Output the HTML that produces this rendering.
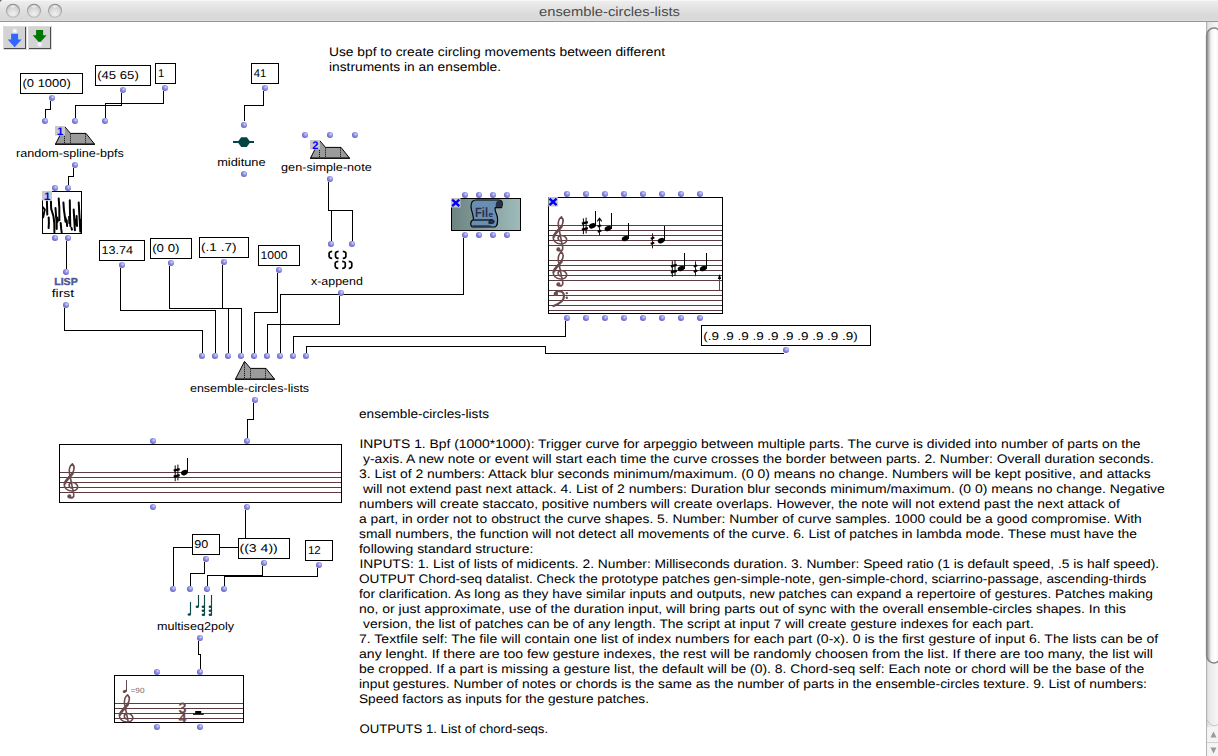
<!DOCTYPE html>
<html><head><meta charset="utf-8"><title>ensemble-circles-lists</title>
<style>
html,body{margin:0;padding:0;background:#fff;}
body{width:1218px;height:756px;overflow:hidden;position:relative;font-family:"Liberation Sans",sans-serif;}
svg{position:absolute;left:0;top:0;}
text{font-family:"Liberation Sans",sans-serif;white-space:pre;text-rendering:geometricPrecision;}
</style></head><body>
<svg width="1218" height="756" viewBox="0 0 1218 756">
<defs>
<radialGradient id="dg" cx="0.62" cy="0.36" r="0.62">
<stop offset="0" stop-color="#e6e6ff"/><stop offset="0.3" stop-color="#a4a4f2"/><stop offset="1" stop-color="#6666c2"/>
</radialGradient>
<g id="d"><circle cx="0" cy="0" r="3.05" fill="url(#dg)"/></g>
<linearGradient id="tb" x1="0" y1="0" x2="0" y2="1">
<stop offset="0" stop-color="#efefef"/><stop offset="0.6" stop-color="#dcdcdc"/><stop offset="0.78" stop-color="#d9d9d9"/><stop offset="1" stop-color="#d9d9d9"/>
</linearGradient>
<radialGradient id="tl" cx="0.5" cy="0.75" r="0.7">
<stop offset="0" stop-color="#f0f0f0"/><stop offset="0.6" stop-color="#dadada"/><stop offset="1" stop-color="#c4c4c4"/>
</radialGradient>
<linearGradient id="tls" x1="0" y1="0" x2="0" y2="1"><stop offset="0" stop-color="#8c8c8c"/><stop offset="1" stop-color="#bcbcbc"/></linearGradient>
<linearGradient id="fg" x1="0" y1="0" x2="1" y2="0">
<stop offset="0" stop-color="#6c8482"/><stop offset="1" stop-color="#9ebbbb"/>
</linearGradient>
<linearGradient id="sbt" x1="0" y1="0" x2="1" y2="0">
<stop offset="0" stop-color="#c8c8c8"/><stop offset="0.25" stop-color="#e8e8e8"/><stop offset="1" stop-color="#f6f6f6"/>
</linearGradient>
<linearGradient id="sbth" x1="0" y1="0" x2="1" y2="0">
<stop offset="0" stop-color="#8a8a8a"/><stop offset="0.14" stop-color="#b8b8b8"/><stop offset="0.3" stop-color="#f2f2f2"/><stop offset="0.55" stop-color="#ffffff"/><stop offset="1" stop-color="#f4f4f4"/>
</linearGradient>
<!-- patch icon -->
<g id="pi">
<path d="M0.5,18.5 L9.5,0.8 L15.5,7.8 L31,7.8 L39.5,18.5 Z" fill="#9b9b9b" stroke="#000" stroke-width="1" stroke-linejoin="miter"/>
<rect x="0" y="18.2" width="40" height="1" fill="#000"/>
<path d="M9.5,2 V18 M15.5,8 V18 M30.5,8 V18" stroke="#000" stroke-width="1" stroke-dasharray="1,1.05" fill="none"/>
</g>
<!-- treble clef: px units for staff space 4.8, origin at spiral centre (just above G line) -->
<g id="tc" fill="none" stroke-linecap="round" stroke-linejoin="round">
<path d="M0.6,2.6 C-3.2,2.2 -3.4,-2.2 0,-2.9 C4,-3.4 6.3,-0.5 6.2,1.6 C6.1,4.2 3,5.7 0,5.5 C-4.6,5.2 -7.6,2 -7.3,-1.5 C-7,-5 -2.2,-8.6 0.4,-11.8 C2.8,-15 3.3,-19 0.9,-21.6 C-1.3,-20 -2.6,-16 -2.1,-12.5 L2.2,8.6 C2.9,12 0.2,13.2 -1.8,11.8" stroke-width="1.6"/>
<path d="M-6.4,-2 C-5.5,-5.5 -1.5,-8.5 1.2,-12" stroke-width="2.3"/>
<circle cx="-2.1" cy="10.9" r="1.5" stroke-width="1.2" fill="currentColor"/>
</g>
<g id="bc" fill="none" stroke-linecap="round">
<path d="M-5,-1 C-5.6,-5 4,-6.2 4,0.8 C4,5 -1,8.5 -6.5,10.5" stroke-width="2.2"/>
<circle cx="-4.2" cy="-1.6" r="1.6" stroke-width="1.2" fill="currentColor"/>
<circle cx="6.8" cy="-2.4" r="0.6" stroke-width="1.2"/><circle cx="6.8" cy="2.2" r="0.6" stroke-width="1.2"/>
</g>
<g id="nh"><ellipse cx="0" cy="0" rx="3.5" ry="2.5" transform="rotate(-24)" fill="#000"/></g>
<g id="sh" stroke="#000" fill="none"><path d="M-1.4,-7.4 V8.4 M1.3,-8.2 V7.6" stroke-width="1"/><path d="M-2.9,-2.2 L3.1,-3.7 M-2.9,3.9 L3.1,2.4" stroke-width="2.3"/></g>
<g id="qs" fill="none"><path d="M0,-7.2 V7.7" stroke="#3c1216" stroke-width="1"/><path d="M-1.8,-1.9 L1.8,-3.1 M-1.8,3.2 L1.8,2" stroke="#000" stroke-width="2"/></g>
</defs>

<rect x="0" y="0" width="1218" height="22" fill="url(#tb)"/>
<rect x="0" y="21" width="1218" height="1" fill="#969696"/><rect x="0" y="20" width="1218" height="1" fill="#dedede"/>
<rect x="0" y="0" width="1218" height="1" fill="#f6f6f6"/>
<circle cx="13" cy="10.8" r="6.5" fill="url(#tl)" stroke="url(#tls)" stroke-width="1.1"/><ellipse cx="13" cy="6.6" rx="2.6" ry="1.1" fill="#f2f2f2" opacity="0.8"/>
<circle cx="34" cy="10.8" r="6.5" fill="url(#tl)" stroke="url(#tls)" stroke-width="1.1"/><ellipse cx="34" cy="6.6" rx="2.6" ry="1.1" fill="#f2f2f2" opacity="0.8"/>
<circle cx="55" cy="10.8" r="6.5" fill="url(#tl)" stroke="url(#tls)" stroke-width="1.1"/><ellipse cx="55" cy="6.6" rx="2.6" ry="1.1" fill="#f2f2f2" opacity="0.8"/>
<text x="539.0" y="16" font-size="13" fill="#4a4a4a" font-weight="normal" textLength="141.0" lengthAdjust="spacingAndGlyphs">ensemble-circles-lists</text>
<path d="M0,0 H2.5 Q0.3,0.3 0,2.5 Z" fill="#5a5a5a"/>
<rect x="3" y="26" width="24" height="24" fill="#dcdcdc"/><rect x="4" y="27" width="22" height="22" fill="#d3d3d3"/><rect x="4" y="48" width="22" height="1" fill="#4a4a4a"/><rect x="25" y="27" width="1" height="22" fill="#4a4a4a"/>
<rect x="28" y="26" width="24" height="24" fill="#dcdcdc"/><rect x="29" y="27" width="22" height="22" fill="#d3d3d3"/><rect x="29" y="48" width="22" height="1" fill="#4a4a4a"/><rect x="50" y="27" width="1" height="22" fill="#4a4a4a"/>
<circle cx="14.8" cy="31" r="2.6" fill="#e4e4ff"/><circle cx="14.8" cy="31" r="1.2" fill="#fff"/>
<path d="M11.1,33.7 H18.1 V39.4 H21.6 L14.6,47.3 L7.7,39.4 H11.1 Z" fill="#3366ff"/>
<path d="M36.1,30 H43.1 V35.3 H46.6 L39.7,43 L32.7,35.3 H36.1 Z" fill="#007800"/>
<circle cx="39.8" cy="44.3" r="2.6" fill="#e4e4ff"/><circle cx="39.8" cy="44.3" r="1.2" fill="#fff"/>
<rect x="1206" y="22" width="12" height="734" fill="url(#sbt)"/>
<rect x="1206" y="22" width="1" height="734" fill="#b4b4b4"/>
<path d="M1206.6,655.5 V35.5 A7.4,7.4 0 0 1 1221.4,35.5 V655.5 A7.4,7.4 0 0 1 1206.6,655.5 Z" fill="url(#sbth)" stroke="#858585" stroke-width="1.5"/>
<path d="M1207,727 H1218 V756 H1207 Z" fill="#f4f4f4"/>
<path d="M1207,720 Q1212,729 1219,724" fill="none" stroke="#c4c4c4" stroke-width="1"/>
<rect x="1207" y="742" width="11" height="1" fill="#d0d0d0"/>
<path d="M1210.5,737.5 L1213.5,731.5 L1216.5,737.5 Z" fill="#9a9a9a"/>
<path d="M1210.5,747.5 L1213.5,753.5 L1216.5,747.5 Z" fill="#9a9a9a"/>
<g fill="#000" shape-rendering="crispEdges">
<rect x="50" y="101" width="1" height="9"/><rect x="45" y="109" width="6" height="1"/><rect x="45" y="109" width="1" height="9"/>
<rect x="121" y="93" width="1" height="13"/><rect x="75" y="105" width="47" height="1"/><rect x="75" y="105" width="1" height="13"/>
<rect x="163" y="91" width="1" height="13"/><rect x="105" y="103" width="59" height="1"/><rect x="105" y="103" width="1" height="15"/>
<rect x="263" y="91" width="1" height="15"/><rect x="244" y="105" width="20" height="1"/><rect x="244" y="105" width="1" height="16"/>
<rect x="73" y="168" width="1" height="9"/><rect x="68" y="176" width="6" height="1"/><rect x="68" y="176" width="1" height="9"/>
<rect x="66" y="241" width="1" height="28"/>
<rect x="64" y="308" width="1" height="23"/><rect x="64" y="330" width="139" height="1"/><rect x="202" y="330" width="1" height="23"/>
<rect x="120" y="268" width="1" height="43"/><rect x="120" y="310" width="96" height="1"/><rect x="215" y="310" width="1" height="43"/>
<rect x="169" y="266" width="1" height="43"/><rect x="169" y="308" width="60" height="1"/><rect x="228" y="308" width="1" height="45"/>
<rect x="222" y="265" width="1" height="44"/><rect x="222" y="308" width="20" height="1"/><rect x="241" y="308" width="1" height="45"/>
<rect x="277" y="273" width="1" height="40"/><rect x="254" y="312" width="24" height="1"/><rect x="254" y="312" width="1" height="41"/>
<rect x="339" y="296" width="1" height="29"/><rect x="267" y="324" width="73" height="1"/><rect x="267" y="324" width="1" height="29"/>
<rect x="463" y="238" width="1" height="57"/><rect x="280" y="294" width="184" height="1"/><rect x="280" y="294" width="1" height="59"/>
<rect x="565" y="321" width="1" height="16"/><rect x="293" y="336" width="273" height="1"/><rect x="293" y="336" width="1" height="17"/>
<rect x="545" y="353" width="239" height="1"/><rect x="545" y="346" width="1" height="8"/><rect x="306" y="346" width="240" height="1"/><rect x="306" y="346" width="1" height="7"/>
<rect x="328" y="182" width="1" height="29"/><rect x="328" y="210" width="25" height="1"/><rect x="352" y="210" width="1" height="31"/>
<rect x="331" y="210" width="1" height="31"/>
<rect x="253" y="403" width="1" height="17"/><rect x="247" y="419" width="7" height="1"/><rect x="247" y="419" width="1" height="19"/>
<rect x="245" y="510" width="1" height="38"/><rect x="173" y="547" width="73" height="1"/><rect x="173" y="547" width="1" height="39"/>
<rect x="204" y="562" width="1" height="12"/><rect x="190" y="573" width="15" height="1"/><rect x="190" y="573" width="1" height="13"/>
<rect x="262" y="566" width="1" height="10"/><rect x="207" y="575" width="56" height="1"/><rect x="207" y="575" width="1" height="11"/>
<rect x="317" y="568" width="1" height="9"/><rect x="224" y="576" width="94" height="1"/><rect x="224" y="576" width="1" height="10"/>
<rect x="198" y="641" width="1" height="14"/><rect x="198" y="654" width="3" height="1"/><rect x="200" y="654" width="1" height="15"/>
</g>
<rect x="20.5" y="73.5" width="62" height="20" fill="#fff" stroke="#000" stroke-width="1"/><text x="22.5" y="87" font-size="11.3" fill="#000" font-weight="normal" textLength="48.3" lengthAdjust="spacingAndGlyphs">(0 1000)</text>
<rect x="95.5" y="65.5" width="55" height="20" fill="#fff" stroke="#000" stroke-width="1"/><text x="97.2" y="79" font-size="11.3" fill="#000" font-weight="normal" textLength="41.6" lengthAdjust="spacingAndGlyphs">(45 65)</text>
<rect x="155.5" y="63.5" width="20" height="20" fill="#fff" stroke="#000" stroke-width="1"/><text x="158" y="77" font-size="11.3" fill="#000" font-weight="normal">1</text>
<rect x="251.5" y="63.5" width="27" height="20" fill="#fff" stroke="#000" stroke-width="1"/><text x="253.7" y="77" font-size="11.3" fill="#000" font-weight="normal" textLength="12.6" lengthAdjust="spacingAndGlyphs">41</text>
<rect x="99.5" y="240.5" width="45" height="20" fill="#fff" stroke="#000" stroke-width="1"/><text x="101.4" y="254" font-size="11.3" fill="#000" font-weight="normal" textLength="31.5" lengthAdjust="spacingAndGlyphs">13.74</text>
<rect x="150.5" y="238.5" width="41" height="20" fill="#fff" stroke="#000" stroke-width="1"/><text x="152.2" y="252" font-size="11.3" fill="#000" font-weight="normal" textLength="27.3" lengthAdjust="spacingAndGlyphs">(0 0)</text>
<rect x="199.5" y="237.5" width="49" height="20" fill="#fff" stroke="#000" stroke-width="1"/><text x="201.1" y="251" font-size="11.3" fill="#000" font-weight="normal" textLength="35.4" lengthAdjust="spacingAndGlyphs">(.1 .7)</text>
<rect x="258.5" y="245.5" width="41" height="20" fill="#fff" stroke="#000" stroke-width="1"/><text x="260.4" y="259" font-size="11.3" fill="#000" font-weight="normal" textLength="27.0" lengthAdjust="spacingAndGlyphs">1000</text>
<rect x="701.5" y="325.5" width="169" height="20" fill="#fff" stroke="#000" stroke-width="1"/><text x="703.2" y="339.5" font-size="11.3" fill="#000" font-weight="normal" textLength="154.5" lengthAdjust="spacingAndGlyphs">(.9 .9 .9 .9 .9 .9 .9 .9 .9 .9)</text>
<rect x="192.5" y="534.5" width="27" height="20" fill="#fff" stroke="#000" stroke-width="1"/><text x="194.2" y="548" font-size="11.3" fill="#000" font-weight="normal" textLength="14.0" lengthAdjust="spacingAndGlyphs">90</text>
<rect x="238.5" y="538.5" width="51" height="20" fill="#fff" stroke="#000" stroke-width="1"/><text x="239.5" y="552" font-size="11.3" fill="#000" font-weight="normal" textLength="38.3" lengthAdjust="spacingAndGlyphs">((3 4))</text>
<rect x="305.5" y="540.5" width="27" height="20" fill="#fff" stroke="#000" stroke-width="1"/><text x="307.9" y="554" font-size="11.3" fill="#000" font-weight="normal" textLength="12.9" lengthAdjust="spacingAndGlyphs">12</text>
<text x="16.0" y="156.5" font-size="11.3" fill="#000" font-weight="normal" textLength="107.8" lengthAdjust="spacingAndGlyphs">random-spline-bpfs</text>
<text x="217.2" y="166" font-size="11.3" fill="#000" font-weight="normal" textLength="48.4" lengthAdjust="spacingAndGlyphs">miditune</text>
<text x="281.1" y="171" font-size="11.3" fill="#000" font-weight="normal" textLength="90.6" lengthAdjust="spacingAndGlyphs">gen-simple-note</text>
<text x="54.2" y="284.6" font-size="10.2" fill="#4c5798" font-weight="bold" textLength="23.5" lengthAdjust="spacingAndGlyphs" stroke="#4c5798" stroke-width="0.35">LISP</text>
<text x="51.7" y="296.5" font-size="11.3" fill="#000" font-weight="normal" textLength="22.4" lengthAdjust="spacingAndGlyphs">first</text>
<text x="311.0" y="284.7" font-size="11.3" fill="#000" font-weight="normal" textLength="51.8" lengthAdjust="spacingAndGlyphs">x-append</text>
<text x="190.0" y="392" font-size="11.3" fill="#000" font-weight="normal" textLength="119.1" lengthAdjust="spacingAndGlyphs">ensemble-circles-lists</text>
<text x="157.0" y="629.8" font-size="11.3" fill="#000" font-weight="normal" textLength="77.1" lengthAdjust="spacingAndGlyphs">multiseq2poly</text>
<use href="#pi" x="55" y="125.6"/>
<rect x="55" y="126" width="10" height="9.5" fill="#c8c8c8"/><text x="57.2" y="134.9" font-size="11" font-weight="bold" fill="#0000ff">1</text><rect x="57.6" y="133.7" width="4.6" height="1.2" fill="#0000ff"/>
<use href="#pi" x="310" y="139.6"/>
<rect x="310" y="140" width="10" height="9.5" fill="#c8c8c8"/><text x="312.2" y="148.9" font-size="11" font-weight="bold" fill="#0000ff">2</text>
<use href="#pi" x="235" y="360.6"/>
<rect x="233" y="141" width="21" height="2" fill="#064444"/>
<path d="M237.6,142 L241.2,137.2 H246.8 L250.4,142 L246.8,146.9 H241.2 Z" fill="#064444"/>
<path d="M332.2,251.4 Q328.4,251.6 329.2,254.9 Q328.4,258.2 332.2,258.4 M338.59999999999997,251.4 Q334.79999999999995,251.6 335.59999999999997,254.9 Q334.79999999999995,258.2 338.59999999999997,258.4 M342.8,251.4 Q346.6,251.6 345.8,254.9 Q346.6,258.2 342.8,258.4 M338.3,261.3 Q334.5,261.5 335.3,264.8 Q334.5,268.1 338.3,268.3 M342.2,261.3 Q346.0,261.5 345.2,264.8 Q346.0,268.1 342.2,268.3 M348.7,261.3 Q352.5,261.5 351.7,264.8 Q352.5,268.1 348.7,268.3" fill="none" stroke="#000" stroke-width="1.7"/>
<g stroke="#0c4848" stroke-width="1.15" fill="#0c4848"><path d="M190.5,602 V614.5 M198.5,595 V606.5 M204.5,595 V615.5 M211.5,595 V615.5" fill="none"/><ellipse cx="189.3" cy="614.6" rx="1.7" ry="1.25" stroke="none"/><ellipse cx="197.3" cy="606.8" rx="1.7" ry="1.25" stroke="none"/><ellipse cx="203.3" cy="606.8" rx="1.7" ry="1.25" stroke="none"/><ellipse cx="203.3" cy="610.8" rx="1.7" ry="1.25" stroke="none"/><ellipse cx="203.3" cy="614.8" rx="1.7" ry="1.25" stroke="none"/><ellipse cx="210.3" cy="606.8" rx="1.7" ry="1.25" stroke="none"/><ellipse cx="210.3" cy="610.8" rx="1.7" ry="1.25" stroke="none"/><ellipse cx="210.3" cy="614.8" rx="1.7" ry="1.25" stroke="none"/></g>
<rect x="42.5" y="191.5" width="39" height="42" fill="#fff" stroke="#000"/>
<path d="M43.0,207.4 L44.8,209.6 L43.7,214.6 L43.1,217.4 M46.9,201.4 L47.1,207.4 L47.3,214.6 M48.7,217.4 L48.9,223.1 L48.6,228.1 M50.9,201.4 L51.2,208.9 L53.4,216.0 L54.3,223.1 L54.4,232.4 M55.5,208.1 L56.2,218.1 L56.7,223.1 L56.7,228.9 M57.1,217.4 L57.6,221.7 M58.7,198.5 L59.3,207.4 L59.4,220.3 M60.7,223.1 L61.2,228.9 L61.7,232.4 M63.4,202.4 L63.9,209.6 L64.6,214.6 L65.5,221.7 M65.0,216.7 L66.0,219.6 M66.7,220.3 L67.1,226.0 M69.8,200.3 L70.0,214.6 L70.3,226.0 M69.1,216.7 L69.4,223.1 M71.4,227.8 L72.0,229.6 M73.7,209.6 L74.3,220.3 L74.9,230.3 M76.6,216.0 L77.0,226.0 M75.7,219.6 L76.1,224.6 M78.7,202.4 L79.4,214.6 L79.9,223.1 L80.3,231.7 M80.7,220.3 L80.9,230.3 " fill="none" stroke="#000" stroke-width="2" stroke-linecap="round" stroke-linejoin="round"/>
<rect x="42" y="191" width="10" height="9.5" fill="#c8c8c8"/><text x="44.2" y="199.9" font-size="11" font-weight="bold" fill="#0000ff">1</text><rect x="44.6" y="198.7" width="4.6" height="1.2" fill="#0000ff"/>
<rect x="451.5" y="198.5" width="69" height="32" fill="url(#fg)" stroke="#000"/>
<g stroke="#000" stroke-width="1.15" stroke-linejoin="round"><path d="M476,200 H499 C502.6,200 503,204 501.5,207.6 H495.2 C494,211 497.6,214 497.6,219 C497.6,223 497.6,226 495,227 H473 C470,227 470,220.6 473.2,220 C474.2,216 471,211 471,206.5 C471,203 472.5,200 476,200 Z" fill="#6a8db2"/><path d="M499,200.3 C502.6,200.3 503,204 501.5,207.3 H496 C495,203.5 496.5,201 499,200.3 Z" fill="#2a3046" stroke="none"/><path d="M473.5,220 H492.5" fill="none"/><path d="M491,219.6 C494.5,219 495.2,222.4 493,223.4 H488.8 C488.6,221.4 489.4,220 491,219.6Z" fill="#2a3046" stroke-width="0.6"/><rect x="472.5" y="225.3" width="18" height="1.5" fill="#2a3046" stroke="none"/></g>
<text x="475" y="216.6" font-size="13.5" font-weight="bold" fill="#2a3046" textLength="13" lengthAdjust="spacingAndGlyphs">Fil</text>
<text x="488.6" y="216.6" font-size="8" font-weight="bold" fill="#2a3046" textLength="4.6" lengthAdjust="spacingAndGlyphs">e</text>
<rect x="451" y="198" width="9.5" height="9.5" fill="#c6c6c6"/><path d="M452.2,199.6 L459.3,206.2 M459.3,199.6 L452.2,206.2" stroke="#0000ff" stroke-width="2.3" fill="none"/>
<rect x="548.5" y="197.5" width="174" height="116" fill="#fff" stroke="#000"/>
<g fill="#5c3c42">
<rect x="549" y="225" width="173" height="1"/>
<rect x="549" y="230" width="173" height="1"/>
<rect x="549" y="235" width="173" height="1"/>
<rect x="549" y="240" width="173" height="1"/>
<rect x="549" y="245" width="173" height="1"/>
<rect x="549" y="260" width="173" height="1"/>
<rect x="549" y="265" width="173" height="1"/>
<rect x="549" y="270" width="173" height="1"/>
<rect x="549" y="275" width="173" height="1"/>
<rect x="549" y="280" width="173" height="1"/>
<rect x="549" y="290" width="173" height="1"/>
<rect x="549" y="295" width="173" height="1"/>
<rect x="549" y="300" width="173" height="1"/>
<rect x="549" y="305" width="173" height="1"/>
<rect x="549" y="310" width="173" height="1"/>
</g>
<g stroke="#6b4a4e" color="#6b4a4e"><use href="#tc" transform="translate(560.5,238.5)"/><use href="#tc" transform="translate(560.5,273.5)"/><use href="#bc" transform="translate(560,295.5)"/></g>
<use href="#nh" x="592.3" y="225.8"/><rect x="595" y="211" width="1" height="15.3" fill="#000"/><use href="#sh" x="584.8" y="225.8"/>
<use href="#nh" x="608" y="228.5"/><rect x="611" y="213" width="1" height="16.0" fill="#000"/><path d="M599.5,219.0 V235.5" stroke="#3c1216" stroke-width="1" fill="none"/><path d="M597.7,226.6 L601.3,225.4 M597.7,231.7 L601.3,230.5" stroke="#000" stroke-width="2" fill="none"/><path d="M597.3,221.3 L599.5,218.3 L601.7,221.3" stroke="#000" stroke-width="1.1" fill="none"/>
<use href="#nh" x="625.2" y="238.5"/><rect x="628" y="223" width="1" height="16.0" fill="#000"/>
<use href="#nh" x="661.1" y="240.6"/><rect x="664" y="226" width="1" height="15.1" fill="#000"/><use href="#qs" x="652.5" y="240.6"/>
<use href="#nh" x="681.1" y="268.5"/><rect x="684" y="253" width="1" height="16.0" fill="#000"/><use href="#sh" x="673.7" y="268.5"/>
<use href="#nh" x="703.2" y="268.5"/><rect x="706" y="253" width="1" height="16.0" fill="#000"/><use href="#qs" x="695.5" y="268.5"/>
<rect x="719" y="275" width="1" height="15" fill="#84383c"/><path d="M717.8,279 L719.5,274 L721.2,279 Z" fill="#000"/>
<rect x="548.3" y="197" width="9.5" height="9.5" fill="#c6c6c6"/><path d="M549.5,198.6 L556.5999999999999,205.2 M556.5999999999999,198.6 L549.5,205.2" stroke="#0000ff" stroke-width="2.3" fill="none"/>
<rect x="59.5" y="444.5" width="282" height="58" fill="#fff" stroke="#000"/>
<g fill="#5c3c42">
<rect x="60" y="472" width="281" height="1"/>
<rect x="60" y="477" width="281" height="1"/>
<rect x="60" y="482" width="281" height="1"/>
<rect x="60" y="487" width="281" height="1"/>
<rect x="60" y="492" width="281" height="1"/>
</g>
<g stroke="#6b4a4e" color="#6b4a4e"><use href="#tc" transform="translate(71.5,485.5)"/></g>
<use href="#sh" x="176.6" y="472.8"/>
<use href="#nh" x="184.4" y="472.6"/><rect x="187" y="458" width="1" height="14.6" fill="#000"/>
<rect x="114.5" y="675.5" width="129" height="47" fill="#fff" stroke="#000"/>
<g fill="#5c3c42">
<rect x="115" y="703" width="128" height="1"/>
<rect x="115" y="708" width="128" height="1"/>
<rect x="115" y="713" width="128" height="1"/>
<rect x="115" y="718" width="128" height="1"/>
</g>
<clipPath id="vc"><rect x="115" y="676" width="128" height="46.5"/></clipPath><g clip-path="url(#vc)"><g stroke="#6b4a4e" color="#6b4a4e"><use href="#tc" transform="translate(126.7,716.5)"/></g></g>
<rect x="126" y="680" width="1" height="11.5" fill="#6b4a4e"/><ellipse cx="124.7" cy="691.3" rx="2.1" ry="1.5" transform="rotate(-22 124.7 691.3)" fill="#6b4a4e"/>
<text x="130.5" y="693" font-size="7.5" fill="#7a6a6a" font-weight="normal" textLength="14.0" lengthAdjust="spacingAndGlyphs">=90</text>
<text x="178.6" y="713.2" font-size="15" font-weight="bold" fill="#6b4a4e" textLength="8" lengthAdjust="spacingAndGlyphs">3</text>
<text x="178.6" y="722.3" font-size="11.5" font-weight="bold" fill="#6b4a4e" textLength="8" lengthAdjust="spacingAndGlyphs">4</text>
<rect x="195.2" y="711" width="6" height="3" fill="#000"/><rect x="193" y="713.6" width="10.8" height="1.2" fill="#000"/>
<use href="#d" x="52" y="98"/>
<use href="#d" x="123" y="90"/>
<use href="#d" x="165" y="88"/>
<use href="#d" x="265" y="88"/>
<use href="#d" x="45" y="121"/>
<use href="#d" x="75" y="121"/>
<use href="#d" x="105" y="121"/>
<use href="#d" x="75" y="165"/>
<use href="#d" x="244" y="125"/>
<use href="#d" x="244" y="174"/>
<use href="#d" x="305" y="135"/>
<use href="#d" x="330" y="135"/>
<use href="#d" x="355" y="135"/>
<use href="#d" x="330" y="179"/>
<use href="#d" x="55" y="188"/>
<use href="#d" x="68" y="188"/>
<use href="#d" x="55" y="238"/>
<use href="#d" x="68" y="238"/>
<use href="#d" x="66" y="272"/>
<use href="#d" x="66" y="305"/>
<use href="#d" x="122" y="265"/>
<use href="#d" x="171" y="263"/>
<use href="#d" x="224" y="262"/>
<use href="#d" x="279" y="270"/>
<use href="#d" x="331" y="244"/>
<use href="#d" x="352" y="244"/>
<use href="#d" x="341" y="293"/>
<use href="#d" x="255" y="400"/>
<use href="#d" x="786" y="350"/>
<use href="#d" x="153" y="441"/>
<use href="#d" x="247" y="441"/>
<use href="#d" x="153" y="507"/>
<use href="#d" x="247" y="507"/>
<use href="#d" x="206" y="559"/>
<use href="#d" x="264" y="563"/>
<use href="#d" x="319" y="565"/>
<use href="#d" x="200" y="638"/>
<use href="#d" x="157" y="672"/>
<use href="#d" x="200" y="672"/>
<use href="#d" x="157" y="727"/>
<use href="#d" x="200" y="727"/>
<use href="#d" x="202" y="356"/>
<use href="#d" x="215" y="356"/>
<use href="#d" x="228" y="356"/>
<use href="#d" x="241" y="356"/>
<use href="#d" x="254" y="356"/>
<use href="#d" x="267" y="356"/>
<use href="#d" x="280" y="356"/>
<use href="#d" x="293" y="356"/>
<use href="#d" x="306" y="356"/>
<use href="#d" x="465" y="195"/>
<use href="#d" x="479" y="195"/>
<use href="#d" x="493" y="195"/>
<use href="#d" x="507" y="195"/>
<use href="#d" x="465" y="235"/>
<use href="#d" x="479" y="235"/>
<use href="#d" x="493" y="235"/>
<use href="#d" x="507" y="235"/>
<use href="#d" x="567" y="194"/>
<use href="#d" x="586" y="194"/>
<use href="#d" x="605" y="194"/>
<use href="#d" x="624" y="194"/>
<use href="#d" x="643" y="194"/>
<use href="#d" x="662" y="194"/>
<use href="#d" x="681" y="194"/>
<use href="#d" x="700" y="194"/>
<use href="#d" x="567" y="318"/>
<use href="#d" x="586" y="318"/>
<use href="#d" x="605" y="318"/>
<use href="#d" x="624" y="318"/>
<use href="#d" x="643" y="318"/>
<use href="#d" x="662" y="318"/>
<use href="#d" x="681" y="318"/>
<use href="#d" x="700" y="318"/>
<use href="#d" x="173" y="589"/>
<use href="#d" x="190" y="589"/>
<use href="#d" x="207" y="589"/>
<use href="#d" x="224" y="589"/>
<text x="329.0" y="56" font-size="12.4" fill="#000" font-weight="normal" textLength="336.0" lengthAdjust="spacingAndGlyphs">Use bpf to create circling movements between different</text>
<text x="329.0" y="71" font-size="12.4" fill="#000" font-weight="normal" textLength="172.1" lengthAdjust="spacingAndGlyphs">instruments in an ensemble.</text>
<text x="359.0" y="417.8" font-size="12.4" fill="#000" font-weight="normal" textLength="130.0" lengthAdjust="spacingAndGlyphs">ensemble-circles-lists</text>
<text x="359.4" y="447.8" font-size="12.4" fill="#000" font-weight="normal" textLength="781.2" lengthAdjust="spacingAndGlyphs">INPUTS 1. Bpf (1000*1000): Trigger curve for arpeggio between multiple parts. The curve is divided into number of parts on the</text>
<text x="363.0" y="462.8" font-size="12.4" fill="#000" font-weight="normal" textLength="790.9" lengthAdjust="spacingAndGlyphs">y-axis. A new note or event will start each time the curve crosses the border between parts. 2. Number: Overall duration seconds.</text>
<text x="359.0" y="477.8" font-size="12.4" fill="#000" font-weight="normal" textLength="791.7" lengthAdjust="spacingAndGlyphs">3. List of 2 numbers: Attack blur seconds minimum/maximum. (0 0) means no change. Numbers will be kept positive, and attacks</text>
<text x="363.0" y="492.8" font-size="12.4" fill="#000" font-weight="normal" textLength="801.8" lengthAdjust="spacingAndGlyphs">will not extend past next attack. 4. List of 2 numbers: Duration blur seconds minimum/maximum. (0 0) means no change. Negative</text>
<text x="359.0" y="507.8" font-size="12.4" fill="#000" font-weight="normal" textLength="760.9" lengthAdjust="spacingAndGlyphs">numbers will create staccato, positive numbers will create overlaps. However, the note will not extend past the next attack of</text>
<text x="359.0" y="522.8" font-size="12.4" fill="#000" font-weight="normal" textLength="782.8" lengthAdjust="spacingAndGlyphs">a part, in order not to obstruct the curve shapes. 5. Number: Number of curve samples. 1000 could be a good compromise. With</text>
<text x="359.0" y="537.8" font-size="12.4" fill="#000" font-weight="normal" textLength="778.0" lengthAdjust="spacingAndGlyphs">small numbers, the function will not detect all movements of the curve. 6. List of patches in lambda mode. These must have the</text>
<text x="359.0" y="552.8" font-size="12.4" fill="#000" font-weight="normal" textLength="174.4" lengthAdjust="spacingAndGlyphs">following standard structure:</text>
<text x="359.4" y="567.8" font-size="12.4" fill="#000" font-weight="normal" textLength="799.8" lengthAdjust="spacingAndGlyphs">INPUTS: 1. List of lists of midicents. 2. Number: Milliseconds duration. 3. Number: Speed ratio (1 is default speed, .5 is half speed).</text>
<text x="359.0" y="582.8" font-size="12.4" fill="#000" font-weight="normal" textLength="787.3" lengthAdjust="spacingAndGlyphs">OUTPUT Chord-seq datalist. Check the prototype patches gen-simple-note, gen-simple-chord, sciarrino-passage, ascending-thirds</text>
<text x="359.0" y="597.8" font-size="12.4" fill="#000" font-weight="normal" textLength="793.9" lengthAdjust="spacingAndGlyphs">for clarification. As long as they have similar inputs and outputs, new patches can expand a repertoire of gestures. Patches making</text>
<text x="359.0" y="612.8" font-size="12.4" fill="#000" font-weight="normal" textLength="766.9" lengthAdjust="spacingAndGlyphs">no, or just approximate, use of the duration input, will bring parts out of sync with the overall ensemble-circles shapes. In this</text>
<text x="363.0" y="627.8" font-size="12.4" fill="#000" font-weight="normal" textLength="670.8" lengthAdjust="spacingAndGlyphs">version, the list of patches can be of any length. The script at input 7 will create gesture indexes for each part.</text>
<text x="359.0" y="642.8" font-size="12.4" fill="#000" font-weight="normal" textLength="799.2" lengthAdjust="spacingAndGlyphs">7. Textfile self: The file will contain one list of index numbers for each part (0-x). 0 is the first gesture of input 6. The lists can be of</text>
<text x="359.0" y="657.8" font-size="12.4" fill="#000" font-weight="normal" textLength="793.9" lengthAdjust="spacingAndGlyphs">any lenght. If there are too few gesture indexes, the rest will be randomly choosen from the list. If there are too many, the list will</text>
<text x="359.0" y="672.8" font-size="12.4" fill="#000" font-weight="normal" textLength="785.3" lengthAdjust="spacingAndGlyphs">be cropped. If a part is missing a gesture list, the default will be (0). 8. Chord-seq self: Each note or chord will be the base of the</text>
<text x="359.0" y="687.8" font-size="12.4" fill="#000" font-weight="normal" textLength="787.9" lengthAdjust="spacingAndGlyphs">input gestures. Number of notes or chords is the same as the number of parts in the ensemble-circles texture. 9. List of numbers:</text>
<text x="359.0" y="702.8" font-size="12.4" fill="#000" font-weight="normal" textLength="290.0" lengthAdjust="spacingAndGlyphs">Speed factors as inputs for the gesture patches.</text>
<text x="359.4" y="732.8" font-size="12.4" fill="#000" font-weight="normal" textLength="188.7" lengthAdjust="spacingAndGlyphs">OUTPUTS 1. List of chord-seqs.</text>
</svg></body></html>
